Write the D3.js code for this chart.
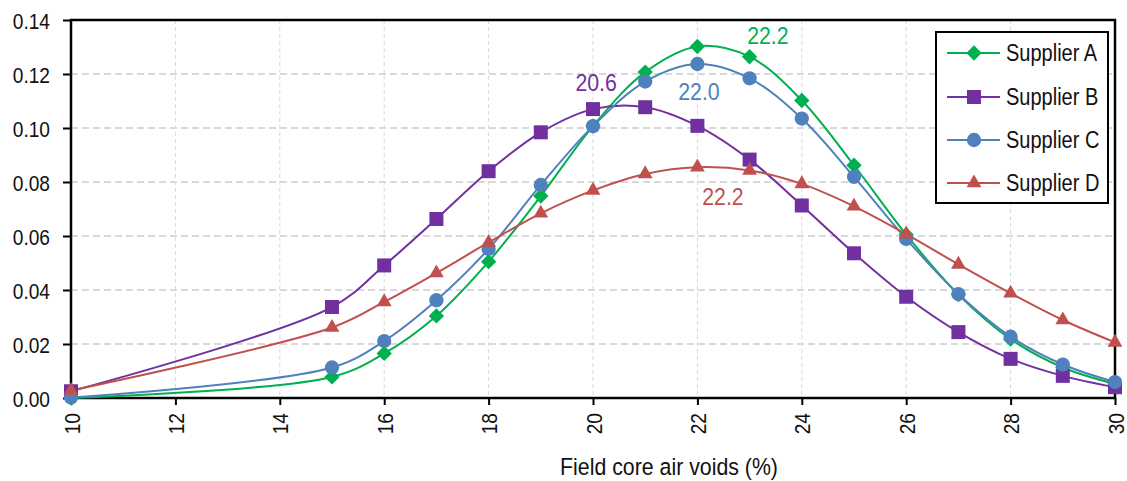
<!DOCTYPE html>
<html>
<head>
<meta charset="utf-8">
<script src="https://cdn.jsdelivr.net/npm/d3@7"></script>
<style>
  html, body { margin: 0; padding: 0; background: #fff; }
  svg { display: block; }
  text { font-family: "Liberation Sans", Arial, sans-serif; fill: #111; }
</style>
</head>
<body>
<svg id="chart" width="1127" height="481"></svg>
<script>
// Air-void distribution per supplier
const airVoids = [10, 15, 16, 17, 18, 19, 20, 21, 22, 23, 24, 25, 26, 27, 28, 29, 30];
const supplierA = [0.0000, 0.0078, 0.0165, 0.0304, 0.0505, 0.0748, 0.1007, 0.1207, 0.1302, 0.1264, 0.1102, 0.0862, 0.0605, 0.0383, 0.0218, 0.0113, 0.0052];
const supplierB = [0.0025, 0.0337, 0.0491, 0.0663, 0.0840, 0.0984, 0.1070, 0.1077, 0.1008, 0.0883, 0.0713, 0.0536, 0.0375, 0.0244, 0.0145, 0.0082, 0.0040];
const supplierC = [0.0002, 0.0113, 0.0211, 0.0362, 0.0552, 0.0789, 0.1007, 0.1172, 0.1237, 0.1184, 0.1035, 0.0819, 0.0589, 0.0385, 0.0227, 0.0124, 0.0059];
const supplierD = [0.0028, 0.0261, 0.0356, 0.0463, 0.0576, 0.0684, 0.0769, 0.0830, 0.0855, 0.0843, 0.0793, 0.0710, 0.0607, 0.0495, 0.0388, 0.0289, 0.0206];
const seriesNames = ["Supplier A", "Supplier B", "Supplier C", "Supplier D"];
const peakLabels = ["22.2", "20.6", "22.0", "22.2"];
const xTicks = [10, 12, 14, 16, 18, 20, 22, 24, 26, 28, 30];
const yTicks = [0, 0.02, 0.04, 0.06, 0.08, 0.10, 0.12, 0.14];

const series = [
  { name: seriesNames[0], values: supplierA, color: "#00B050", symbol: d3.symbolDiamond2, size: 150, peak: peakLabels[0], labelAt: [23.35, 0.1344] },
  { name: seriesNames[1], values: supplierB, color: "#7030A0", symbol: d3.symbolSquare, size: 196, peak: peakLabels[1], labelAt: [20.06, 0.1170] },
  { name: seriesNames[2], values: supplierC, color: "#4F81BD", symbol: d3.symbolCircle, size: 160, peak: peakLabels[2], labelAt: [22.03, 0.1137] },
  { name: seriesNames[3], values: supplierD, color: "#C0504D", symbol: d3.symbolTriangle, size: 95, peak: peakLabels[3], labelAt: [22.49, 0.0748] }
];

// Condensed lettering: horizontal squeeze applied to every label
const SQUEEZE = 0.87;

const svg = d3.select("#chart");
const plotLeft = 71, plotRight = 1115, plotTop = 20, plotBottom = 398;

const x = d3.scaleLinear().domain([10, 30]).range([plotLeft, plotRight]);
const y = d3.scaleLinear().domain([0, 0.14]).range([plotBottom, plotTop]);

function label(parent, px, py, str, size, anchor, color) {
  return parent.append("text")
    .attr("transform", `translate(${px},${py}) scale(${SQUEEZE},1)`)
    .attr("text-anchor", anchor).attr("dominant-baseline", "central")
    .style("font-size", size + "px").style("fill", color || "#111")
    .text(str);
}

// Grid
const grid = svg.append("g");
grid.selectAll("line.hg").data(yTicks.slice(1, -1)).join("line")
  .attr("x1", plotLeft).attr("x2", plotRight)
  .attr("y1", d => y(d)).attr("y2", d => y(d))
  .attr("stroke", "#d9d9d9").attr("stroke-width", 2).attr("stroke-dasharray", "7,4");
grid.selectAll("line.vg").data(xTicks.slice(1, -1)).join("line")
  .attr("x1", d => x(d)).attr("x2", d => x(d))
  .attr("y1", plotTop).attr("y2", plotBottom)
  .attr("stroke", "#d9d9d9").attr("stroke-width", 1).attr("stroke-dasharray", "4,3");

// Axes
const yAxis = d3.axisLeft(y).tickValues(yTicks).tickFormat(d3.format(".2f")).tickSize(8).tickPadding(12);
const gy = svg.append("g").attr("transform", `translate(${plotLeft},0)`).call(yAxis);
gy.select(".domain").remove();
gy.selectAll(".tick line").attr("stroke", "#000").attr("stroke-width", 2);
gy.selectAll(".tick text")
  .style("font-size", "22px").attr("fill", "#111")
  .attr("x", null).attr("dy", null).attr("dominant-baseline", "central")
  .attr("transform", `translate(-21,0) scale(${SQUEEZE},1)`);

const xAxis = d3.axisBottom(x).tickValues(xTicks).tickFormat(d3.format("d")).tickSize(7);
const gx = svg.append("g").attr("transform", `translate(0,${plotBottom})`).call(xAxis);
gx.select(".domain").remove();
gx.selectAll(".tick line").attr("stroke", "#000").attr("stroke-width", 2);
gx.selectAll(".tick text")
  .style("font-size", "22px").attr("fill", "#111")
  .attr("text-anchor", "end").attr("dominant-baseline", "central")
  .attr("x", 0).attr("y", 0).attr("dy", null)
  .attr("transform", `translate(0,15) rotate(-90) scale(${SQUEEZE},1)`);

// Plot frame
svg.append("rect").attr("x", plotLeft).attr("y", plotTop)
  .attr("width", plotRight - plotLeft).attr("height", plotBottom - plotTop)
  .attr("fill", "none").attr("stroke", "#000").attr("stroke-width", 2.5);

// Axis title
label(svg, 669, 466, "Field core air voids (%)", 24.5, "middle");

// Series
const line = d3.line().x(d => x(d[0])).y(d => y(d[1])).curve(d3.curveCatmullRom.alpha(0.5));
series.forEach(s => {
  const pts = airVoids.map((v, i) => [v, s.values[i]]);
  svg.append("path").datum(pts).attr("d", line)
    .attr("fill", "none").attr("stroke", s.color).attr("stroke-width", 2);
});
series.forEach(s => {
  const pts = airVoids.map((v, i) => [v, s.values[i]]);
  svg.append("g").selectAll("path").data(pts).join("path")
    .attr("d", d3.symbol().type(s.symbol).size(s.size))
    .attr("transform", d => `translate(${x(d[0])},${y(d[1])})`)
    .attr("fill", s.color);
});

// Peak labels
series.forEach(s => {
  label(svg, x(s.labelAt[0]), y(s.labelAt[1]), s.peak, 24.5, "middle", s.color);
});

// Legend
const legend = svg.append("g");
legend.append("rect").attr("x", 936).attr("y", 32).attr("width", 172).attr("height", 171)
  .attr("fill", "#fff").attr("stroke", "#000").attr("stroke-width", 2);
const rowY = [53, 97, 140, 183];
series.forEach((s, i) => {
  const g = legend.append("g").attr("transform", `translate(0,${rowY[i]})`);
  g.append("line").attr("x1", 947).attr("x2", 1000).attr("y1", 0).attr("y2", 0)
    .attr("stroke", s.color).attr("stroke-width", 2);
  g.append("path").attr("d", d3.symbol().type(s.symbol).size(s.size))
    .attr("transform", "translate(974,0)").attr("fill", s.color);
  label(g, 1006, 0, s.name, 23, "start");
});
</script>
</body>
</html>
